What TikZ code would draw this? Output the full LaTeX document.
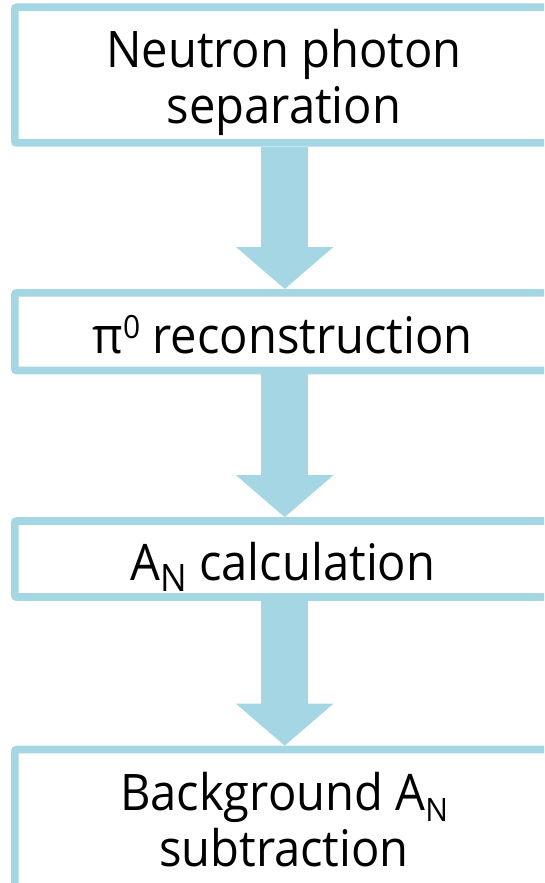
\documentclass[tikz,border=0pt]{standalone}
\usepackage{fontspec}
\setmainfont{Open Sans}[FakeStretch=0.935]
\usetikzlibrary{arrows.meta}
\definecolor{flowblue}{RGB}{164,214,227}
% superscript and subscript helpers
\newcommand\supnum[1]{\raisebox{15pt}{\fontsize{32}{32}\selectfont #1}}
\newcommand\subidx[3]{\raisebox{-#2}{\fontsize{#1}{#1}\selectfont #3}}
\begin{document}
\begin{tikzpicture}[x=1pt,y=-1pt,
  box/.style={draw=flowblue, line width=7.7pt, rounded corners=2pt,
    anchor=north west, inner sep=0pt, minimum width=600pt},
  txt/.style={font=\fontsize{50.4}{55.3}\selectfont, align=center, inner sep=0pt, anchor=base},
  flow/.style={draw=flowblue, line width=47pt,
    -{Triangle[width=95pt,length=42pt]}}]
\useasboundingbox (0,0) rectangle (544,883);
\clip (0,0) rectangle (544,883);
\coordinate (ax) at (284.7,0);
% process boxes
\node[box, minimum height=135.6pt] (b1) at (11,3.4) {};
\node[box, minimum height=77.7pt] (b2) at (11,289) {};
\node[box, minimum height=76pt] (b3) at (11,517.2) {};
\node[box, minimum height=140pt] (b4) at (11,745.7) {};
% labels (base anchor sits on the last line)
\node[txt] (t1) at (284,123) {Neutron photon\\separation};
\node[txt] (t2) at (282.7,353) {π\supnum{0} reconstruction};
\node[txt] (t3) at (283,580) {A\subidx{37.8pt}{11.7pt}{N} calculation};
\node[txt] (t4) at (284,866) {Background A\subidx{32.2pt}{11pt}{N}\\subtraction};
% flow arrows
\draw[flow] (ax |- b1.south) -- (ax |- b2.north);
\draw[flow] (ax |- b2.south) -- (ax |- b3.north);
\draw[flow] (ax |- b3.south) -- (ax |- b4.north);
\end{tikzpicture}
\end{document}
